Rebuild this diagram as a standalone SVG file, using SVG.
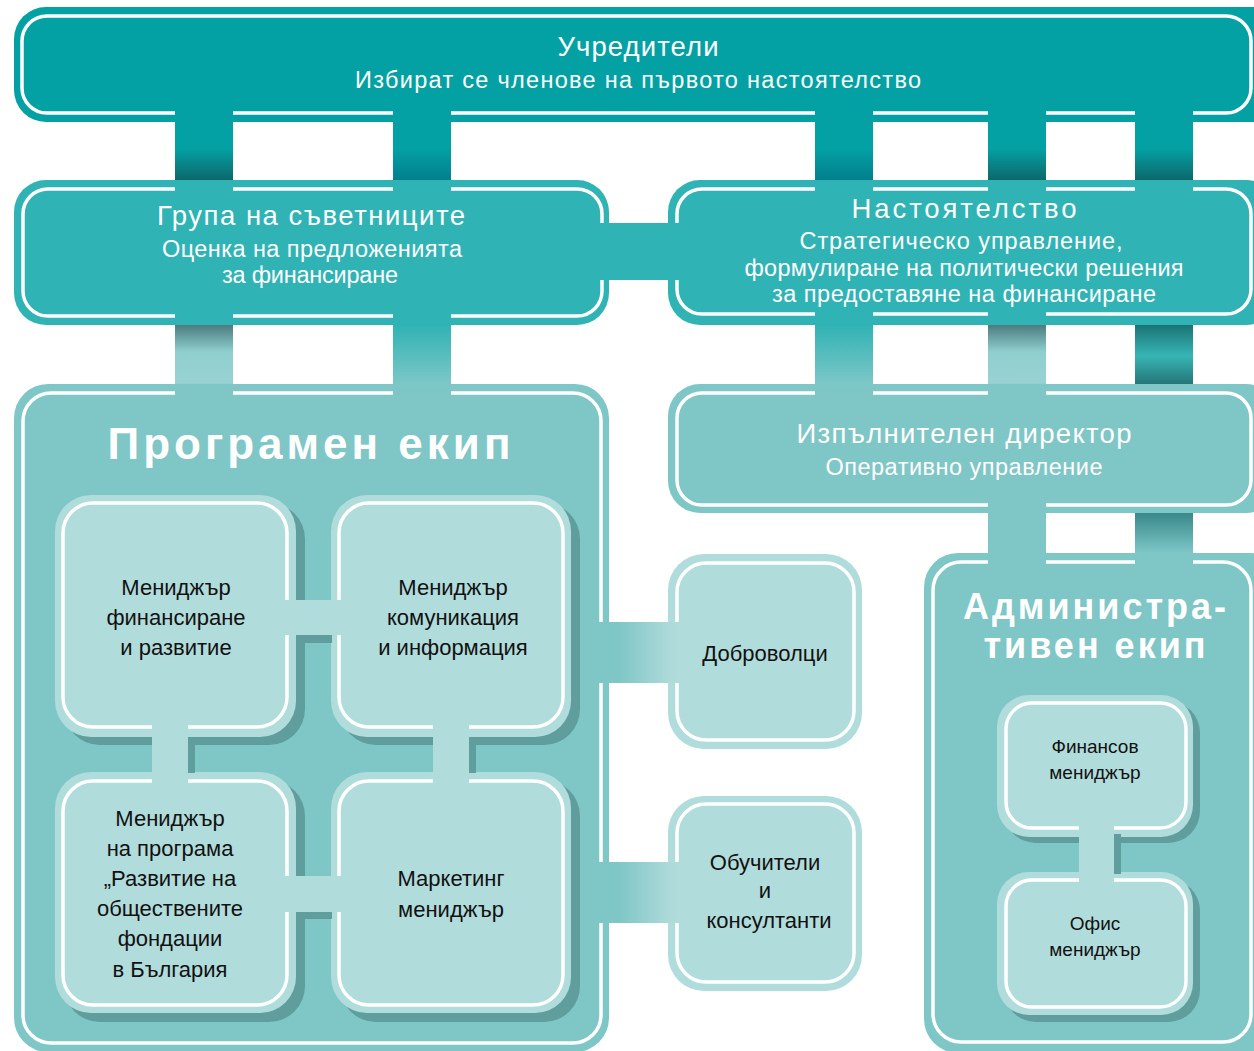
<svg xmlns="http://www.w3.org/2000/svg" width="1254" height="1051" viewBox="0 0 1254 1051">
<defs>
<style>
.wt{fill:#fff;font-family:"Liberation Sans",Arial,sans-serif;text-anchor:middle}
.t1{font-size:27.5px}
.t2{font-size:23.5px}
.hd{font-weight:bold;font-size:44px;letter-spacing:4px}
.hd2{font-weight:bold;font-size:36px;letter-spacing:3px}
.bk{fill:#111;font-family:"Liberation Sans",Arial,sans-serif;text-anchor:middle;font-size:22px}
.bs{fill:#111;font-family:"Liberation Sans",Arial,sans-serif;text-anchor:middle;font-size:19px}
.ws{fill:none;stroke:#fff;stroke-width:3.5}
.c0{fill:#03a1a3}
.c1{fill:#2fb3b4}
.c2{fill:#7fc6c6}
.c3{fill:#b1dcdc}
.sh{fill:#5f9e9d}
</style>
<linearGradient id="gD12" gradientUnits="userSpaceOnUse" x1="0" y1="110" x2="0" y2="192">
<stop offset="0" stop-color="#03a1a3"/><stop offset="0.47" stop-color="#03a1a3"/><stop offset="0.85" stop-color="#0d686c"/><stop offset="0.855" stop-color="#2fb3b4"/><stop offset="1" stop-color="#2fb3b4"/>
</linearGradient>
<linearGradient id="gB12" gradientUnits="userSpaceOnUse" x1="0" y1="110" x2="0" y2="192">
<stop offset="0" stop-color="#03a1a3"/><stop offset="0.47" stop-color="#03a1a3"/><stop offset="0.85" stop-color="#03808e"/><stop offset="0.855" stop-color="#2fb3b4"/><stop offset="1" stop-color="#2fb3b4"/>
</linearGradient>
<linearGradient id="gD23" gradientUnits="userSpaceOnUse" x1="0" y1="312" x2="0" y2="397">
<stop offset="0" stop-color="#2fb3b4"/><stop offset="0.15" stop-color="#2fb3b4"/><stop offset="0.152" stop-color="#4b7c7e"/><stop offset="0.47" stop-color="#90cfcf"/><stop offset="0.84" stop-color="#99d2d2"/><stop offset="0.845" stop-color="#7fc6c6"/><stop offset="1" stop-color="#7fc6c6"/>
</linearGradient>
<linearGradient id="gT23" gradientUnits="userSpaceOnUse" x1="0" y1="312" x2="0" y2="397">
<stop offset="0" stop-color="#2fb3b4"/><stop offset="0.15" stop-color="#2fb3b4"/><stop offset="0.84" stop-color="#7dc7c7"/><stop offset="1" stop-color="#7fc6c6"/>
</linearGradient>
<linearGradient id="gK23" gradientUnits="userSpaceOnUse" x1="0" y1="325" x2="0" y2="384">
<stop offset="0" stop-color="#1b7373"/><stop offset="0.52" stop-color="#37b5b5"/><stop offset="1" stop-color="#257677"/>
</linearGradient>
<linearGradient id="gK34" gradientUnits="userSpaceOnUse" x1="0" y1="513" x2="0" y2="566">
<stop offset="0" stop-color="#3a888a"/><stop offset="0.72" stop-color="#7ac4c4"/><stop offset="0.75" stop-color="#7fc6c6"/><stop offset="1" stop-color="#7fc6c6"/>
</linearGradient>
<linearGradient id="gH" gradientUnits="userSpaceOnUse" x1="598" y1="0" x2="680" y2="0">
<stop offset="0" stop-color="#7fc6c6"/><stop offset="0.25" stop-color="#7fc6c6"/><stop offset="0.85" stop-color="#acd9d9"/><stop offset="1" stop-color="#b1dcdc"/>
</linearGradient>
</defs>

<g id="uchrediteli">
<rect class="c0" x="14" y="7" width="1270" height="115" rx="32"/>
<rect class="ws" x="22" y="16" width="1229" height="97" rx="25"/>
<text class="wt t1" x="638" y="56" textLength="161" lengthAdjust="spacing">Учредители</text>
<text class="wt t2" x="638" y="88" textLength="566" lengthAdjust="spacing">Избират се членове на първото настоятелство</text>
</g>

<g id="grupa">
<rect class="c1" x="14" y="180" width="595" height="145" rx="32"/>
<rect class="ws" x="23" y="189" width="579" height="127" rx="25"/>
<text class="wt t1" x="311" y="225" textLength="308" lengthAdjust="spacing">Група на съветниците</text>
<text class="wt t2" x="312" y="257" textLength="300" lengthAdjust="spacing">Оценка на предложенията</text>
<text class="wt t2" x="310" y="283" textLength="176" lengthAdjust="spacing">за финансиране</text>
</g>

<g id="nastoyatelstvo">
<rect class="c1" x="668" y="180" width="610" height="145" rx="32"/>
<rect class="ws" x="677" y="189" width="574" height="125" rx="25"/>
<text class="wt t1" x="964" y="218" textLength="225" lengthAdjust="spacing">Настоятелство</text>
<text class="wt t2" x="961" y="249" textLength="323" lengthAdjust="spacing">Стратегическо управление,</text>
<text class="wt t2" x="964" y="276" textLength="439" lengthAdjust="spacing">формулиране на политически решения</text>
<text class="wt t2" x="964" y="302" textLength="384" lengthAdjust="spacing">за предоставяне на финансиране</text>
</g>

<g id="izpalnitelen">
<rect class="c2" x="668" y="384" width="610" height="129" rx="32"/>
<rect class="ws" x="677" y="393" width="574" height="112" rx="25"/>
<text class="wt t1" x="964" y="443" textLength="335" lengthAdjust="spacing">Изпълнителен директор</text>
<text class="wt t2" x="964" y="475" textLength="277" lengthAdjust="spacing">Оперативно управление</text>
</g>

<g id="programen">
<rect class="c2" x="14" y="384" width="595" height="668" rx="34"/>
<rect class="ws" x="23" y="393" width="578" height="650" rx="28"/>
<text class="wt hd" x="311" y="459">Програмен екип</text>
</g>

<g id="administrativen">
<rect class="c2" x="924" y="553" width="360" height="500" rx="34"/>
<rect class="ws" x="933" y="562" width="318" height="480" rx="28"/>
<text class="wt hd2" x="1096" y="619">Администра-</text>
<text class="wt hd2" x="1096" y="658">тивен екип</text>
</g>

<g id="mgr-finansirane">
<rect class="sh" x="64" y="503" width="241" height="242" rx="36"/>
<rect class="c3" x="55" y="495" width="241" height="242" rx="36"/>
<rect class="ws" x="63" y="503" width="224" height="224" rx="30"/>
<text class="bk" x="176" y="595">Мениджър</text>
<text class="bk" x="176" y="625">финансиране</text>
<text class="bk" x="176" y="655">и развитие</text>
</g>

<g id="mgr-komunikacia">
<rect class="sh" x="340" y="503" width="240" height="242" rx="36"/>
<rect class="c3" x="331" y="495" width="240" height="242" rx="36"/>
<rect class="ws" x="339" y="503" width="224" height="224" rx="30"/>
<text class="bk" x="453" y="595">Мениджър</text>
<text class="bk" x="453" y="625">комуникация</text>
<text class="bk" x="453" y="655">и информация</text>
</g>

<g id="mgr-programa">
<rect class="sh" x="64" y="780" width="241" height="242" rx="36"/>
<rect class="c3" x="55" y="772" width="241" height="241" rx="36"/>
<rect class="ws" x="63" y="781" width="224" height="224" rx="30"/>
<text class="bk" x="170" y="826">Мениджър</text>
<text class="bk" x="170" y="856">на програма</text>
<text class="bk" x="170" y="886">„Развитие на</text>
<text class="bk" x="170" y="916">обществените</text>
<text class="bk" x="170" y="946">фондации</text>
<text class="bk" x="170" y="977">в България</text>
</g>

<g id="mgr-marketing">
<rect class="sh" x="340" y="780" width="240" height="242" rx="36"/>
<rect class="c3" x="331" y="772" width="240" height="241" rx="36"/>
<rect class="ws" x="339" y="781" width="224" height="224" rx="30"/>
<text class="bk" x="451" y="886">Маркетинг</text>
<text class="bk" x="451" y="917">мениджър</text>
</g>

<g id="dobrovolci">
<rect class="c3" x="668" y="554" width="194" height="195" rx="36"/>
<rect class="ws" x="677" y="563" width="177" height="177" rx="29"/>
<text class="bk" x="765" y="661">Доброволци</text>
</g>

<g id="obuchiteli">
<rect class="c3" x="668" y="796" width="194" height="195" rx="36"/>
<rect class="ws" x="677" y="804" width="177" height="178" rx="29"/>
<text class="bk" x="765" y="870">Обучители</text>
<text class="bk" x="765" y="898">и</text>
<text class="bk" x="769" y="928">консултанти</text>
</g>

<g id="fin-mgr">
<rect class="sh" x="1004" y="701" width="196" height="142" rx="32"/>
<rect class="c3" x="997" y="695" width="196" height="142" rx="32"/>
<rect class="ws" x="1006" y="703" width="180" height="125" rx="26"/>
<text class="bs" x="1095" y="753">Финансов</text>
<text class="bs" x="1095" y="779">мениджър</text>
</g>

<g id="ofis-mgr">
<rect class="sh" x="1004" y="879" width="196" height="143" rx="32"/>
<rect class="c3" x="997" y="872" width="196" height="143" rx="32"/>
<rect class="ws" x="1006" y="880" width="180" height="127" rx="26"/>
<text class="bs" x="1095" y="930">Офис</text>
<text class="bs" x="1095" y="956">мениджър</text>
</g>

<g id="connectors">
<rect x="175" y="110" width="58" height="82" fill="url(#gD12)"/>
<rect x="393" y="110" width="58" height="82" fill="url(#gB12)"/>
<rect x="815" y="110" width="58" height="82" fill="url(#gB12)"/>
<rect x="988" y="110" width="58" height="82" fill="url(#gD12)"/>
<rect x="1135" y="110" width="58" height="82" fill="url(#gD12)"/>
<rect class="c1" x="600" y="223" width="79" height="57"/>
<rect x="175" y="312" width="58" height="85" fill="url(#gD23)"/>
<rect x="393" y="312" width="58" height="85" fill="url(#gT23)"/>
<rect x="815" y="312" width="58" height="85" fill="url(#gT23)"/>
<rect x="988" y="312" width="58" height="85" fill="url(#gD23)"/>
<rect x="1135" y="325" width="58" height="59" fill="url(#gK23)"/>
<rect class="c2" x="988" y="503" width="58" height="63"/>
<rect x="1135" y="513" width="58" height="53" fill="url(#gK34)"/>
<rect x="598" y="622" width="82" height="61" fill="url(#gH)"/>
<rect x="598" y="862" width="82" height="61" fill="url(#gH)"/>
<rect class="sh" x="296" y="608" width="36" height="35"/>
<rect class="c3" x="285" y="600" width="56" height="35"/>
<rect class="sh" x="296" y="884" width="36" height="35"/>
<rect class="c3" x="285" y="876" width="56" height="36"/>
<rect class="sh" x="160" y="737" width="35" height="36"/>
<rect class="c3" x="152" y="725" width="36" height="58"/>
<rect class="sh" x="441" y="737" width="35" height="36"/>
<rect class="c3" x="433" y="725" width="36" height="58"/>
<rect class="sh" x="1086" y="834" width="35" height="40"/>
<rect class="c3" x="1079" y="826" width="35" height="56"/>
</g>
</svg>
